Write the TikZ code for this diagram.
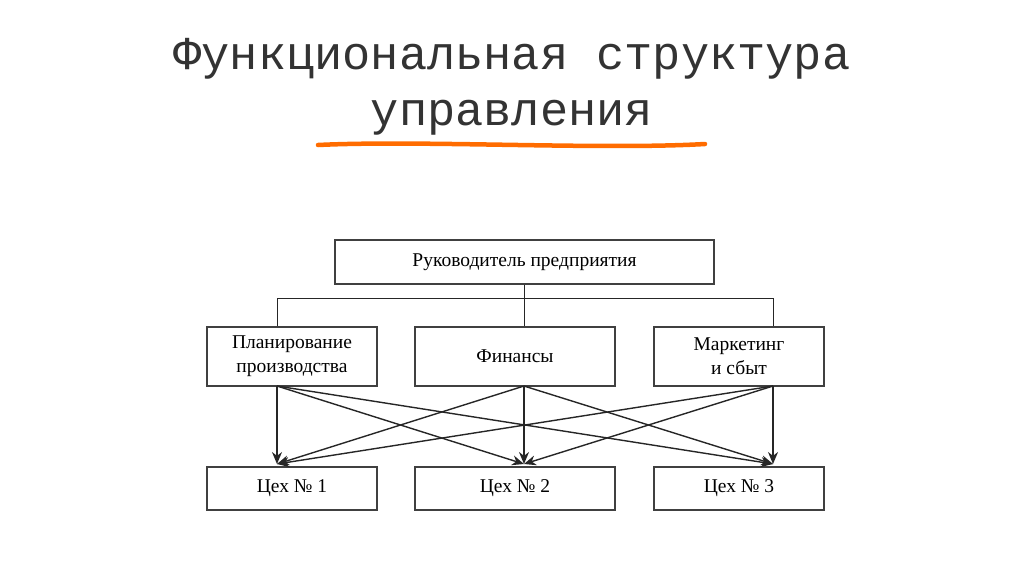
\documentclass[tikz,border=0pt]{standalone}
\usepackage{fontspec}
\setmainfont{Liberation Serif}
\newfontfamily\titlefont{Liberation Mono}
\usetikzlibrary{arrows.meta}
\begin{document}
\begin{tikzpicture}[x=1pt,y=-1pt,
  box/.style={draw=black!75,line width=1.2pt,minimum width=170pt,minimum height=59pt,align=center,font=\fontsize{19.5}{24}\selectfont,inner sep=0pt},
  conn/.style={black!85,line width=1.4pt},
  arr/.style={conn,-{Stealth[length=12pt,width=10pt]}}]
\useasboundingbox (0,0) rectangle (1024,574);
\node[font=\titlefont\fontsize{47}{56}\selectfont,align=center,text=black!80] (title) at (512,87) {Функциональная структура\\управления};
\draw[orange!85!red,line width=4.5pt,line cap=round] (318,145) .. controls (420,140) and (600,150) .. (705,144);
\node[box,minimum width=379pt,minimum height=44pt] (top) at (524.5,262) {Руководитель предприятия};
\node[box] (m1) at (292,356.5) {Планирование\\производства};
\node[box,minimum width=200pt] (m2) at (515,356.5) {Финансы};
\node[box] (m3) at (739,356.5) {Маркетинг\\и сбыт};
\node[box,minimum height=43pt] (b1) at (292,488.5) {Цех № 1};
\node[box,minimum width=200pt,minimum height=43pt] (b2) at (515,488.5) {Цех № 2};
\node[box,minimum height=43pt] (b3) at (739,488.5) {Цех № 3};
\coordinate (s1) at (277,386);
\coordinate (s2) at (524,386);
\coordinate (s3) at (773,386);
\coordinate (t1) at (277,464);
\coordinate (t2) at (524,464);
\coordinate (t3) at (773,464);
\coordinate (busL) at (277,298);
\coordinate (busC) at (524,298);
\coordinate (busR) at (773,298);
\draw[conn,line width=1pt] (top.south -| busC) -- (busC);
\draw[conn,line width=1pt] (busL |- m1.north) -- (busL) -- (busR) -- (busR |- m3.north);
\draw[conn,line width=1pt] (busC) -- (busC |- m2.north);
\foreach \s in {s1,s2,s3}{\foreach \t in {t1,t2,t3}{\draw[arr] (\s) -- (\t);}}
\end{tikzpicture}
\end{document}
